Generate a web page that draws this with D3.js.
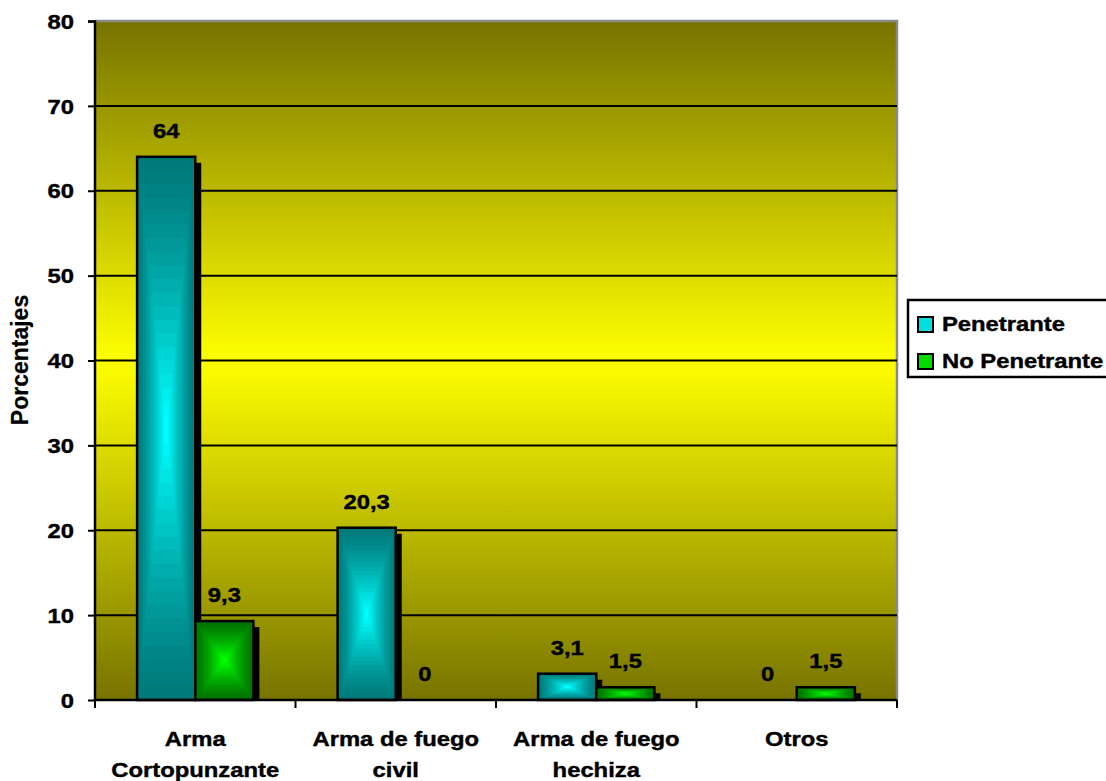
<!DOCTYPE html>
<html>
<head>
<meta charset="utf-8">
<script src="https://cdn.jsdelivr.net/npm/d3@7"></script>
<style>
  html, body { margin: 0; padding: 0; background: #ffffff; }
  svg { display: block; }
  text { font-family: "Liberation Sans", Arial, sans-serif; font-weight: bold; fill: #000; stroke: #000; stroke-width: 0.4px; }
</style>
</head>
<body>
<svg id="chart" width="1106" height="781"></svg>
<script>
// Tipo de arma por tipo de herida (porcentajes)
const categories = [["Arma", "Cortopunzante"], ["Arma de fuego", "civil"], ["Arma de fuego", "hechiza"], ["Otros"]];
const seriesNames = ["Penetrante", "No Penetrante"];
const penetrante = [64, 20.3, 3.1, 0];
const noPenetrante = [9.3, 0, 1.5, 1.5];
const yTicks = [0, 10, 20, 30, 40, 50, 60, 70, 80];

const seriesEdge = ["#007a7a", "#007200"];
const seriesCenter = ["#00ffff", "#00ff00"];
const fontSize = 20;
const stretch = 1.19; // wide bold lettering

const svg = d3.select("#chart");
const margin = { left: 95, top: 21, right: 209, bottom: 81 };
const W = 1106, H = 781;
const plotW = W - margin.left - margin.right;
const plotH = H - margin.top - margin.bottom;

// Horizontally widened text anchored at (x, y)
function wideText(parent, x, y, str, anchor) {
  return parent.append("g").attr("transform", `translate(${x},${y}) scale(${stretch},1)`)
    .append("text").attr("text-anchor", anchor || "middle").attr("font-size", fontSize).text(str);
}

const g = svg.append("g").attr("transform", `translate(${margin.left},${margin.top})`);

const x0 = d3.scaleBand().domain(d3.range(categories.length)).range([0, plotW])
  .paddingInner(0.42).paddingOuter(0.21);
const x1 = d3.scaleBand().domain(d3.range(seriesNames.length)).range([0, x0.bandwidth()]);
const y = d3.scaleLinear().domain([0, 80]).range([plotH, 0]);

// Plot background: olive -> yellow -> olive
const defs = svg.append("defs");
const bg = defs.append("linearGradient").attr("id", "bg").attr("x1", 0).attr("y1", 0).attr("x2", 0).attr("y2", 1);
bg.append("stop").attr("offset", "0%").attr("stop-color", "#777300");
bg.append("stop").attr("offset", "50%").attr("stop-color", "#ffff00");
bg.append("stop").attr("offset", "100%").attr("stop-color", "#777300");

g.append("rect").attr("width", plotW).attr("height", plotH).attr("fill", "url(#bg)");

// Frame top/right
g.append("path").attr("d", `M0,0H${plotW}V${plotH}`).attr("fill", "none")
  .attr("stroke", "#8a8a8a").attr("stroke-width", 2.5);

// Gridlines
g.append("g").selectAll("line").data(yTicks.filter(t => t > 0 && t < 80)).join("line")
  .attr("x1", 0).attr("x2", plotW).attr("y1", d => y(d)).attr("y2", d => y(d))
  .attr("stroke", "#000").attr("stroke-width", 2);

// Bars
const rows = [];
categories.forEach((c, i) => {
  rows.push({ cat: i, s: 0, v: penetrante[i] });
  rows.push({ cat: i, s: 1, v: noPenetrante[i] });
});

const steps = 20;
const barG = g.append("g");
const labelG = g.append("g");
rows.forEach(d => {
  const bx = x0(d.cat) + x1(d.s);
  const bw = x1.bandwidth();
  const by = y(d.v);
  const bh = y(0) - y(d.v);
  if (bh > 0) {
    // shadow
    barG.append("rect").attr("x", bx + 6).attr("y", by + 6)
      .attr("width", bw).attr("height", Math.max(0, bh - 6)).attr("fill", "#000");
    // rectangular gradient from the centre outwards
    const col = d3.interpolateRgb(seriesEdge[d.s], seriesCenter[d.s]);
    for (let k = 0; k < steps; k++) {
      const f = k / steps;
      const ix = f * bw / 2, iy = f * bh / 2;
      barG.append("rect").attr("x", bx + ix).attr("y", by + iy)
        .attr("width", Math.max(0.5, bw - 2 * ix)).attr("height", Math.max(0.5, bh - 2 * iy))
        .attr("fill", col(Math.pow(k / (steps - 1), 1.3)));
    }
    barG.append("rect").attr("x", bx).attr("y", by).attr("width", bw).attr("height", bh)
      .attr("fill", "none").attr("stroke", "#000").attr("stroke-width", 2.5);
  }
  // value label
  wideText(labelG, bx + bw / 2, by - 19, String(d.v).replace(".", ","));
});

// Y axis
const yAxis = d3.axisLeft(y).tickValues(yTicks).tickSize(7).tickPadding(0);
const ya = g.append("g").call(yAxis);
ya.select(".domain").attr("stroke", "#000").attr("stroke-width", 2.5).attr("d", `M-7,0.5H0V${plotH}`);
ya.selectAll(".tick line").attr("stroke", "#000").attr("stroke-width", 2);
ya.selectAll(".tick text").attr("x", 0).attr("dy", "0.36em")
  .attr("transform", `translate(-21,0) scale(${stretch},1)`)
  .attr("font-size", fontSize).attr("font-family", "Liberation Sans, Arial, sans-serif")
  .attr("font-weight", "bold").attr("fill", "#000");

// X axis
const xa = g.append("g").attr("transform", `translate(0,${plotH})`);
xa.append("line").attr("x1", 0).attr("x2", plotW).attr("stroke", "#000").attr("stroke-width", 2.5);
const bounds = d3.range(categories.length + 1).map(i => i * plotW / categories.length);
xa.selectAll("line.tick").data(bounds).join("line").attr("class", "tick")
  .attr("x1", d => d).attr("x2", d => d).attr("y1", 0).attr("y2", 8)
  .attr("stroke", "#000").attr("stroke-width", 2);
categories.forEach((c, i) => {
  const cx = x0(i) + x0.bandwidth() / 2;
  c.forEach((line, j) => wideText(xa, cx, 46 + j * 31, line));
});

// Y title
svg.append("text").attr("transform", `translate(28,360) rotate(-90)`)
  .attr("text-anchor", "middle").attr("font-size", 23).style("stroke-width", "0.2px").text("Porcentajes");

// Legend
const lg = svg.append("g").attr("transform", "translate(908,300)");
lg.append("rect").attr("x", 0).attr("y", 0).attr("width", 205).attr("height", 77)
  .attr("fill", "#fff").attr("stroke", "#000").attr("stroke-width", 2.5);
seriesNames.forEach((n, i) => {
  const cy = 24 + i * 37;
  const col = d3.interpolateRgb(seriesEdge[i], seriesCenter[i]);
  lg.append("rect").attr("x", 10).attr("y", cy - 7).attr("width", 15).attr("height", 15)
    .attr("fill", col(0.75)).attr("stroke", "#000").attr("stroke-width", 2);
  wideText(lg, 34, cy + 7, n, "start");
});
</script>
</body>
</html>
